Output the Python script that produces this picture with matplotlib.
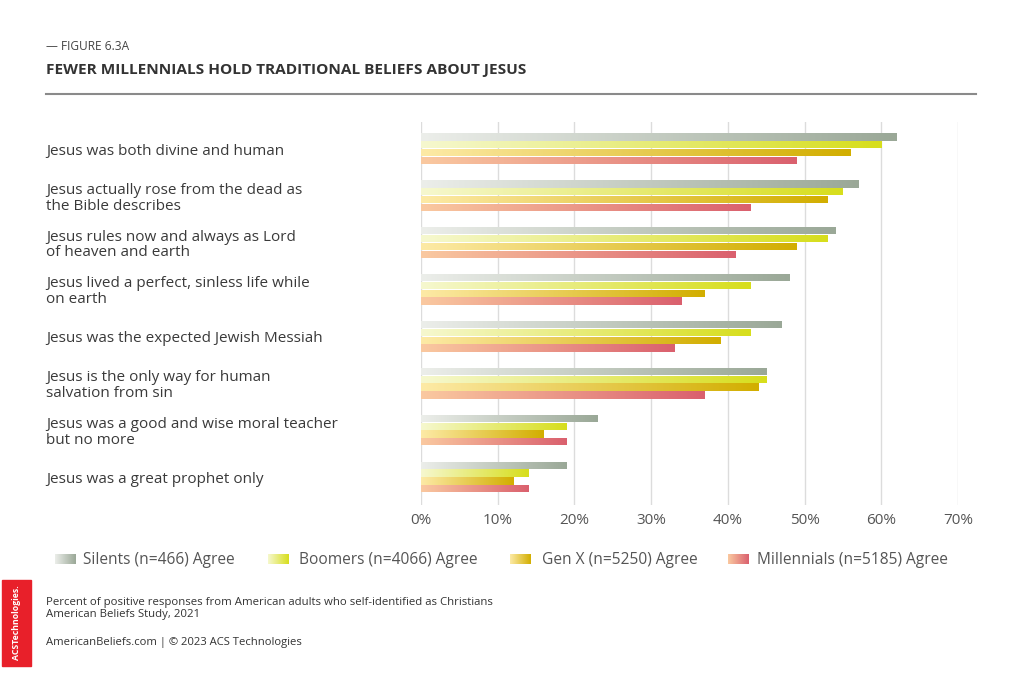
import numpy as np
import matplotlib
matplotlib.use("Agg")
import matplotlib.pyplot as plt
from matplotlib.colors import LinearSegmentedColormap

# ---------------- data ----------------
categories = [
    "Jesus was both divine and human",
    "Jesus actually rose from the dead as\nthe Bible describes",
    "Jesus rules now and always as Lord\nof heaven and earth",
    "Jesus lived a perfect, sinless life while\non earth",
    "Jesus was the expected Jewish Messiah",
    "Jesus is the only way for human\nsalvation from sin",
    "Jesus was a good and wise moral teacher\nbut no more",
    "Jesus was a great prophet only",
]
series_names = [
    "Silents (n=466) Agree",
    "Boomers (n=4066) Agree",
    "Gen X (n=5250) Agree",
    "Millennials (n=5185) Agree",
]
silents = [62, 57, 54, 48, 47, 45, 23, 19]
boomers = [60, 55, 53, 43, 43, 45, 19, 14]
genx = [56, 53, 49, 37, 39, 44, 16, 12]
millennials = [49, 43, 41, 34, 33, 37, 19, 14]
xticks = [0, 10, 20, 30, 40, 50, 60, 70]
xtick_labels = ["0%", "10%", "20%", "30%", "40%", "50%", "60%", "70%"]

title_small = "— FIGURE 6.3A"
title = "FEWER MILLENNIALS HOLD TRADITIONAL BELIEFS ABOUT JESUS"
note1 = "Percent of positive responses from American adults who self-identified as Christians"
note2 = "American Beliefs Study, 2021"
note3 = "AmericanBeliefs.com | © 2023 ACS Technologies"

# ---------------- style ----------------
FONT = "Open Sans"
grads = [
    ("#eceeea", "#9aa897"),
    ("#f6f8cf", "#d7de1c"),
    ("#fdeaa6", "#d2ae00"),
    ("#fac9a0", "#da606e"),
]
W, H = 1024, 683
fig = plt.figure(figsize=(W / 100, H / 100), dpi=100)
fig.patch.set_facecolor("white")

def px(x0, y0, x1, y1):
    return [x0 / W, 1 - y1 / H, (x1 - x0) / W, (y1 - y0) / H]

# main axes
ax = fig.add_axes(px(421, 122, 958, 505))
ymin, ymax = -0.569, 7.597
ax.set_xlim(0, 70)
ax.set_ylim(ymax, ymin)
for s in ax.spines.values():
    s.set_visible(False)
ax.set_xticks(xticks)
ax.set_xticklabels(xtick_labels, fontsize=11, color="#555555", family=FONT)
ax.tick_params(axis="x", length=0, pad=6)
ax.set_yticks([])
ax.grid(axis="x", color="#dcdcdc", lw=1)
ax.set_axisbelow(True)

pitch = 0.166
bh = 0.156
yc = np.arange(len(categories))
all_series = [silents, boomers, genx, millennials]
grad = np.linspace(0, 1, 256).reshape(1, -1)
for k, vals in enumerate(all_series):
    cmap = LinearSegmentedColormap.from_list(f"g{k}", list(grads[k]))
    off = (k - 1.5) * pitch
    bars = ax.barh(yc + off, vals, height=bh, color="none", edgecolor="none")
    for b in bars:
        x0, y0 = b.get_x(), b.get_y()
        w, h = b.get_width(), b.get_height()
        im = ax.imshow(grad, cmap=cmap, aspect="auto",
                       extent=(x0, x0 + w, y0 + h, y0), zorder=2,
                       interpolation="bicubic")
        im.set_clip_path(b)
ax.set_xlim(0, 70)
ax.set_ylim(ymax, ymin)

# category labels
for i, c in enumerate(categories):
    ax.annotate(c, xy=(0, i), xycoords=("figure fraction", "data"),
                xytext=(46 / W, -1.8), textcoords=("figure fraction", "offset points"),
                ha="left", va="center", fontsize=11, color="#3a3a3a",
                family=FONT, linespacing=1.08)

# overlay axes in pixel coords for decoration
ov = fig.add_axes([0, 0, 1, 1], zorder=-1)
ov.set_xlim(0, W)
ov.set_ylim(H, 0)
ov.axis("off")

ov.text(46, 47, title_small, fontsize=8.6, color="#444444", family=FONT, va="center")
ov.text(46, 70, title, fontsize=11.1, color="#333333", family=FONT,
        weight="bold", va="center")
ov.plot([46, 976], [94, 94], color="#8a8a8a", lw=1.5)

# legend
sw_x = [55, 268, 510, 728]
tx_x = [83, 299, 542, 757]
ov2 = fig.add_axes([0, 0, 1, 1], zorder=5)
ov2.set_xlim(0, W)
ov2.set_ylim(H, 0)
ov2.axis("off")
for k in range(4):
    cmap = LinearSegmentedColormap.from_list(f"l{k}", list(grads[k]))
    ov2.imshow(grad, cmap=cmap, aspect="auto",
               extent=(sw_x[k], sw_x[k] + 21, 564, 554), interpolation="bicubic")
    ov2.text(tx_x[k], 560, series_names[k], fontsize=11.2, color="#555555",
             family=FONT, va="center", ha="left")
ov2.set_xlim(0, W)
ov2.set_ylim(H, 0)

# footer
ov2.add_patch(plt.Rectangle((2, 580), 29, 86, color="#e8202a"))
ov2.text(16.5, 623, "ACSTechnologies.", rotation=90, color="white",
         fontsize=6.3, weight="bold", family=FONT, ha="center", va="center")
ov2.text(46, 602, note1, fontsize=8.2, color="#333333", family=FONT, va="center")
ov2.text(46, 615, note2, fontsize=8.2, color="#333333", family=FONT, va="center")
ov2.text(46, 643, note3, fontsize=8.1, color="#333333", family=FONT, va="center")

fig.savefig("out.png", dpi=100, facecolor="white")
